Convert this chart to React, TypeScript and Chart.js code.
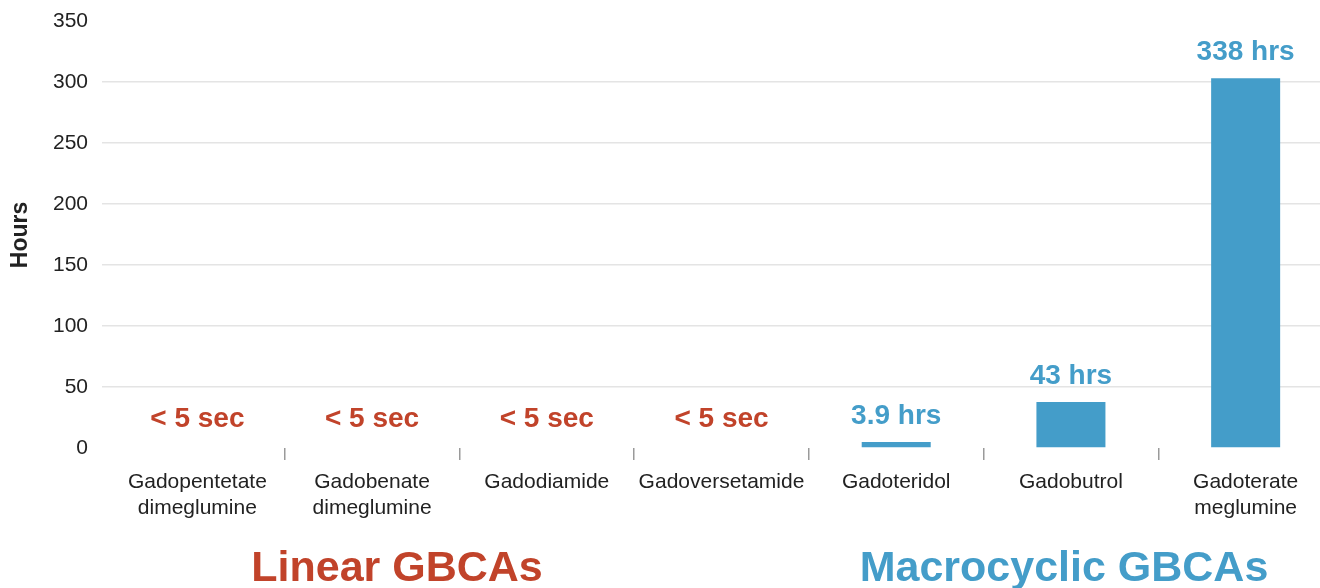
import React, { useEffect, useRef } from "react";
import { Chart, registerables } from "chart.js";

Chart.register(...registerables);

const FONT = '"Liberation Sans", Arial, Helvetica, sans-serif';
const RED = "#c1432a";
const BLUE = "#449dc9";

const categories: (string | string[])[] = [
  ["Gadopentetate", "dimeglumine"],
  ["Gadobenate", "dimeglumine"],
  "Gadodiamide",
  "Gadoversetamide",
  "Gadoteridol",
  "Gadobutrol",
  ["Gadoterate", "meglumine"],
];
const hours = [0, 0, 0, 0, 4.9, 37.7, 303];
const valueLabels = ["< 5 sec", "< 5 sec", "< 5 sec", "< 5 sec", "3.9 hrs", "43 hrs", "338 hrs"];
const groups = ["linear", "linear", "linear", "linear", "macro", "macro", "macro"];
const groupTitles = ["Linear GBCAs", "Macrocyclic GBCAs"];
const yTicks = [0, 50, 100, 150, 200, 250, 300, 350];
const yTitle = "Hours";

const annotate = {
  id: "annotate",
  afterDatasetsDraw(chart: any) {
    const ctx = chart.ctx;
    const xs = chart.scales.x;
    const ys = chart.scales.y;
    ctx.save();
    ctx.textAlign = "center";
    ctx.textBaseline = "alphabetic";
    ctx.font = `bold 28px ${FONT}`;
    valueLabels.forEach((lab, i) => {
      const cx = xs.getPixelForValue(i);
      const v = hours[i];
      const top = ys.getPixelForValue(v);
      ctx.fillStyle = groups[i] === "linear" ? RED : BLUE;
      ctx.fillText(lab, cx, top - (v > 0 ? 18 : 21));
    });
    ctx.font = `bold 43px ${FONT}`;
    ctx.fillStyle = RED;
    ctx.fillText(groupTitles[0], 397, 581);
    ctx.fillStyle = BLUE;
    ctx.fillText(groupTitles[1], 1064, 581);
    ctx.translate(27, 235);
    ctx.rotate(-Math.PI / 2);
    ctx.font = `bold 23px ${FONT}`;
    ctx.fillStyle = "#222";
    ctx.fillText(yTitle, 0, 0);
    ctx.restore();
  },
};

export default function App() {
  const ref = useRef<HTMLCanvasElement>(null);
  useEffect(() => {
    document.body.style.margin = "0";
    const chart = new Chart(ref.current!, {
      type: "bar",
      data: {
        labels: categories,
        datasets: [
          {
            data: hours,
            backgroundColor: groups.map((g) => (g === "linear" ? RED : BLUE)),
            barPercentage: 0.395,
            categoryPercentage: 1,
            borderWidth: 0,
          },
        ],
      },
      options: {
        animation: false,
        responsive: true,
        maintainAspectRatio: false,
        layout: { padding: { top: 21, left: 0, right: 0, bottom: 0 } },
        plugins: { legend: { display: false }, tooltip: { enabled: false } },
        scales: {
          x: {
            border: { display: false },
            grid: {
              drawOnChartArea: false,
              drawTicks: true,
              tickLength: 12,
              lineWidth: 1.5,
              color: (c: any) => (c.index === 0 ? "rgba(0,0,0,0)" : "#9a9a9a"),
            },
            ticks: {
              color: "#222",
              font: { family: FONT, size: 21, lineHeight: 1.24 },
              padding: 9,
              maxRotation: 0,
              autoSkip: false,
            },
            afterFit: (s: any) => {
              s.height = 140;
              s.paddingLeft = 0;
              s.paddingRight = 0;
            },
          },
          y: {
            min: 0,
            max: 350,
            border: { display: false },
            afterBuildTicks: (s: any) => {
              s.ticks = yTicks.map((v) => ({ value: v }));
            },
            grid: {
              drawTicks: true,
              tickLength: 8,
              lineWidth: 1.5,
              color: (c: any) =>
                c.tick && (c.tick.value === 0 || c.tick.value === 350) ? "rgba(0,0,0,0)" : "#e4e4e4",
            },
            ticks: {
              color: "#222",
              font: { family: FONT, size: 21 },
              padding: 14,
            },
            afterFit: (s: any) => {
              s.width = 110;
              s.paddingTop = 0;
              s.paddingBottom = 0;
            },
          },
        },
      },
      plugins: [annotate],
    });
    return () => chart.destroy();
  }, []);
  return (
    <div style={{ position: "fixed", left: 0, top: 0, width: 1320, height: 588, overflow: "hidden", background: "#fff" }}>
      <div style={{ position: "relative", width: 1333, height: 588 }}>
        <canvas ref={ref} />
      </div>
    </div>
  );
}
